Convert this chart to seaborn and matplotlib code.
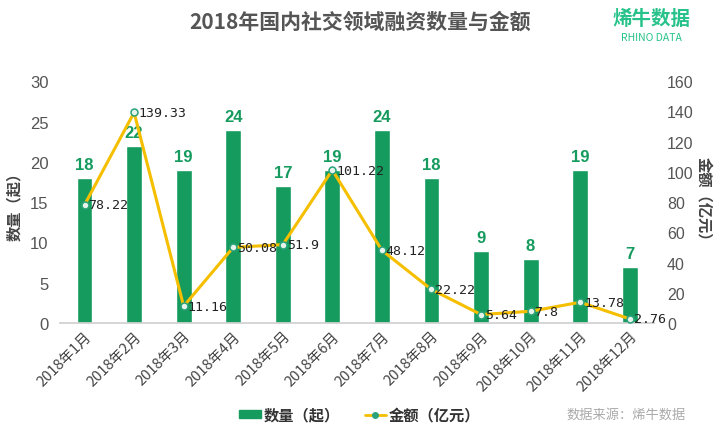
import matplotlib
matplotlib.use("Agg")
import matplotlib.pyplot as plt
import seaborn as sns
import pandas as pd

months = ["2018年1月", "2018年2月", "2018年3月", "2018年4月", "2018年5月", "2018年6月",
          "2018年7月", "2018年8月", "2018年9月", "2018年10月", "2018年11月", "2018年12月"]
counts = [18, 22, 19, 24, 17, 19, 24, 18, 9, 8, 19, 7]
amounts = [78.22, 139.33, 11.16, 50.08, 51.9, 101.22, 48.12, 22.22, 5.64, 7.8, 13.78, 2.76]
amount_labels = ["78.22", "139.33", "11.16", "50.08", "51.9", "101.22", "48.12", "22.22",
                 "5.64", "7.8", "13.78", "2.76"]

sns.set_theme(style="white")
plt.rcParams['font.family'] = ['Noto Sans CJK SC', 'DejaVu Sans']

df = pd.DataFrame({"month": months, "count": counts, "amount": amounts})

GREEN = "#169b5e"
YELLOW = "#f5bf00"
NUMFONT = ['Liberation Sans', 'DejaVu Sans']

fig = plt.figure(figsize=(7.2, 4.35), dpi=100)
ax = fig.add_axes([0.083, 0.255, 0.826, 0.556])
sns.barplot(data=df, x="month", y="count", color=GREEN, width=0.32, ax=ax, saturation=1)
ax.set_ylim(0, 30)
ax.set_xlim(-0.5, 11.5)
ax.set_yticks(range(0, 31, 5))
ax.tick_params(axis='y', labelsize=12, colors="#555555", length=0, pad=8)
ax.tick_params(axis='x', labelsize=10.5, colors="#444444", length=0, pad=4)
for lbl in ax.get_yticklabels():
    lbl.set_family(NUMFONT)
for lbl in ax.get_xticklabels():
    lbl.set_rotation(45)
    lbl.set_ha("right")
    lbl.set_rotation_mode("anchor")
for s in ["top", "right", "left"]:
    ax.spines[s].set_visible(False)
ax.spines["bottom"].set_color("#d0d0d0")
ax.set_xlabel("")
ax.set_ylabel("")
for i, c in enumerate(counts):
    ax.text(i, c + 0.7, str(c), ha="center", va="bottom", color=GREEN, fontsize=12,
            fontweight="bold", family=NUMFONT)

ax2 = ax.twinx()
sns.lineplot(x=list(range(12)), y=amounts, ax=ax2, color=YELLOW, linewidth=2.2,
             marker="o", markersize=5, markerfacecolor="#e6f4ec", markeredgecolor="#2aa27a",
             markeredgewidth=1.1)
ax2.set_ylim(0, 160)
ax2.set_yticks(range(0, 161, 20))
ax2.tick_params(axis='y', labelsize=11.5, colors="#555555", length=0, pad=9)
for lbl in ax2.get_yticklabels():
    lbl.set_family(NUMFONT)
for s in ["top", "right", "left", "bottom"]:
    ax2.spines[s].set_visible(False)
ax2.set_ylabel("")
for i, (a, t) in enumerate(zip(amounts, amount_labels)):
    ax2.text(i + 0.08, a, t, ha="left", va="center", color="#222222", fontsize=9.5,
             family=['DejaVu Sans Mono', 'DejaVu Sans'])
ax.set_xlim(-0.5, 11.5)

ymid = 0.255 + 0.556 / 2
fig.text(0.02, ymid, "数量（起）", rotation=90, ha="center", va="center",
         fontsize=11, fontweight="bold", color="#444444")
fig.text(0.978, ymid, "金额（亿元）", rotation=-90, ha="center", va="center",
         fontsize=11, fontweight="bold", color="#444444")

fig.text(0.5, 0.948, "2018年国内社交领域融资数量与金额", ha="center", va="center",
         fontsize=15, fontweight="semibold", color="#555555")
fig.text(0.905, 0.955, "烯牛数据", ha="center", va="center", fontsize=14,
         fontweight="bold", color="#27c28a")
fig.text(0.905, 0.912, "RHINO DATA", ha="center", va="center", fontsize=7.5, color="#27c28a")

from matplotlib.patches import Patch
from matplotlib.lines import Line2D
handles = [Patch(color=GREEN),
           Line2D([0], [0], color=YELLOW, lw=2, marker="o", markersize=4,
                  markerfacecolor="#2aa27a", markeredgecolor="#2aa27a")]
leg = fig.legend(handles, ["数量（起）", "金额（亿元）"], loc="center", bbox_to_anchor=(0.5, 0.045),
                 ncol=2, frameon=False, fontsize=11, handlelength=1.4, columnspacing=1.6,
                 handleheight=0.5, handletextpad=0.2)
for t in leg.get_texts():
    t.set_fontweight("bold")
    t.set_color("#333333")
fig.text(0.87, 0.045, "数据来源：烯牛数据", ha="center", va="center", fontsize=9.5, color="#aaaaaa")

fig.savefig("out.png", dpi=100)
